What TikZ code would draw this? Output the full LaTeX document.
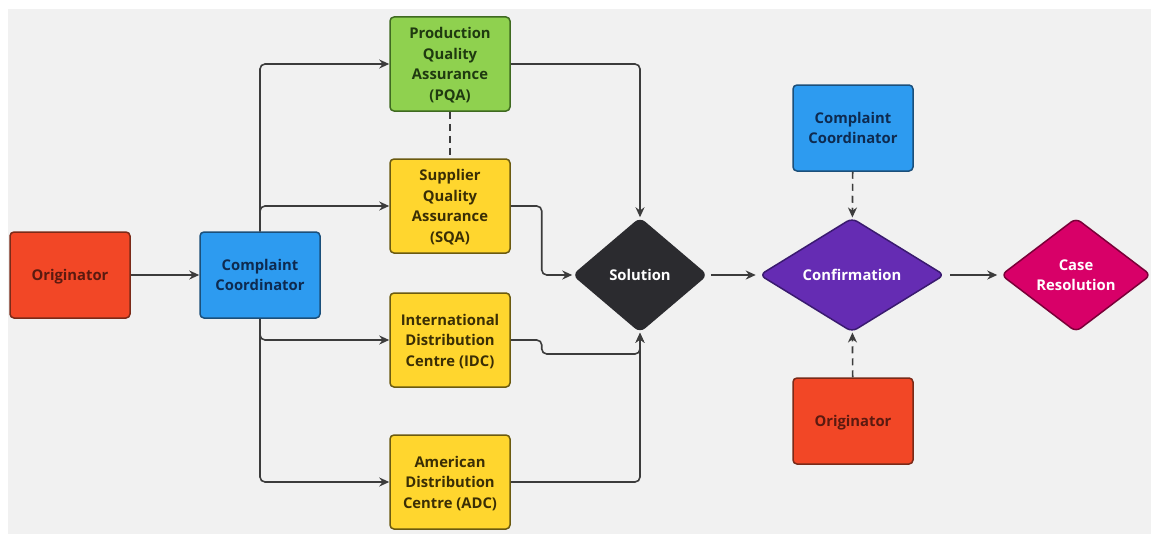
\documentclass[tikz,border=0pt]{standalone}
\usepackage{fontspec}
\setmainfont{Open Sans}
\usetikzlibrary{shapes.geometric,arrows.meta}

\definecolor{bggray}{HTML}{F1F1F1}
\definecolor{lineclr}{HTML}{3C3C3C}
\definecolor{origfill}{HTML}{F24726}
\definecolor{origtext}{HTML}{5A1A10}
\definecolor{origdraw}{HTML}{7A2A18}
\definecolor{ccfill}{HTML}{2D9BF0}
\definecolor{cctext}{HTML}{0E2A4F}
\definecolor{ccdraw}{HTML}{1B4F7A}
\definecolor{pqafill}{HTML}{8FD14F}
\definecolor{pqatext}{HTML}{1F3A10}
\definecolor{pqadraw}{HTML}{3F6A20}
\definecolor{yelfill}{HTML}{FFD62E}
\definecolor{yeltext}{HTML}{3A2E05}
\definecolor{yeldraw}{HTML}{6B5A10}
\definecolor{solfill}{HTML}{2B2B2F}
\definecolor{conffill}{HTML}{652CB3}
\definecolor{confdraw}{HTML}{3A1A70}
\definecolor{casefill}{HTML}{D80068}
\definecolor{casedraw}{HTML}{7A0038}

\tikzset{
  box/.style={rectangle, rounded corners=4pt, line width=1.5pt, align=center,
    minimum width=120pt, minimum height=86pt, inner sep=2pt,
    font=\fontsize{14.8}{20.5}\selectfont\bfseries},
  tallbox/.style={box, minimum height=94pt, text depth=-5pt},
  origbox/.style={box, fill=origfill, draw=origdraw, text=origtext, text depth=-2pt},
  ccbox/.style={box, fill=ccfill, draw=ccdraw, text=cctext, text depth=-1pt},
  pqabox/.style={tallbox, fill=pqafill, draw=pqadraw, text=pqatext},
  yelbox/.style={tallbox, fill=yelfill, draw=yeldraw, text=yeltext},
  dia/.style={diamond, rounded corners=6pt, line width=1.5pt, align=center,
    inner sep=0pt, minimum height=114pt, text=white,
    font=\fontsize{14.8}{20.5}\selectfont\bfseries},
  conn/.style={draw=lineclr, line width=1.6pt, rounded corners=5pt,
    -{Stealth[length=10pt,width=9pt]}},
  dconn/.style={conn, dash pattern=on 7pt off 5pt}
}

\begin{document}
\begin{tikzpicture}[x=1pt,y=-1pt]
  \useasboundingbox (0,0) rectangle (1151,535);
  \fill[white] (0,0) rectangle (1151,535);
  \fill[bggray] (8,9) rectangle (1151,534);

  % left part
  \node[origbox] (orig) at (70,275) {Originator};
  \node[ccbox] (cc) at (260,275) {Complaint\\Coordinator};
  \node[pqabox] (pqa) at (450,64) {Production\\Quality\\Assurance\\(PQA)};
  \node[yelbox] (sqa) at (450,206) {Supplier\\Quality\\Assurance\\(SQA)};
  \node[yelbox] (idc) at (450,340) {International\\Distribution\\Centre (IDC)};
  \node[yelbox] (adc) at (450,482) {American\\Distribution\\Centre (ADC)};

  % decisions
  \node[dia, fill=solfill, draw=solfill, minimum width=134pt] (sol) at (640,275) {Solution};
  \node[dia, fill=conffill, draw=confdraw, minimum width=185pt] (conf) at (852,275) {Confirmation};
  \node[dia, fill=casefill, draw=casedraw, minimum width=150pt] (case) at (1076,275) {Case\\Resolution};

  % right part
  \node[ccbox] (cc2) at (853,128) {Complaint\\Coordinator};
  \node[origbox] (orig2) at (853,421) {Originator};

  \draw[conn] (orig) -- (cc);
  \foreach \t in {pqa,sqa} \draw[conn] (cc.north) |- (\t.west);
  \foreach \t in {idc,adc} \draw[conn] (cc.south) |- (\t.west);
  \draw[conn] (pqa.east) -| (sol.north);
  \draw[conn] (sqa.east) -- ++(31,0) |- (sol.west);
  \draw[conn] (idc.east) -- ++(31,0) -- ++(0,14) -| (sol.south);
  \draw[conn] (adc.east) -| (sol.south);
  \draw[lineclr, line width=1.6pt, dash pattern=on 7pt off 5pt] (pqa) -- (sqa);
  \draw[conn, shorten <=3pt, shorten >=3pt] (sol) -- (conf);
  \draw[conn, shorten <=5pt, shorten >=3pt] (conf) -- (case);
  \draw[dconn] (cc2) -- (conf);
  \draw[dconn] (orig2) -- (conf);
\end{tikzpicture}
\end{document}
